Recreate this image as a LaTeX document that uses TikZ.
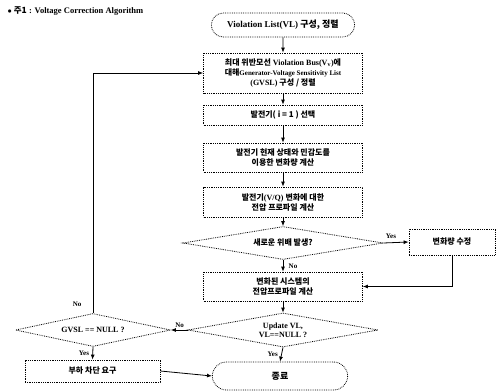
\documentclass[tikz,border=0pt]{standalone}
\usepackage{fontspec}
\setmainfont{Liberation Serif}
\newfontfamily\korfont{Noto Sans CJK KR}
\newcommand\hg[1]{{\korfont #1}}
\usetikzlibrary{positioning,arrows.meta,shapes.geometric,shapes.misc}

\begin{document}
\begin{tikzpicture}[x=1pt,y=-1pt,font=\fontsize{8}{11}\selectfont\bfseries,
  stepbox/.style={draw,densely dotted,thick,minimum width=159pt,align=center,inner sep=1pt},
  decide/.style={draw,densely dotted,thick,diamond,aspect=6,inner sep=0pt,align=center},
  term/.style={draw,densely dotted,thick,rounded rectangle,align=center},
  flow/.style={-{Latex[length=5pt,width=4pt]},thick},
  lab/.style={font=\fontsize{7}{8}\selectfont\bfseries}]
\useasboundingbox (0,0) rectangle (499,391);
\node[anchor=west,font=\fontsize{8.5}{10}\selectfont\bfseries] (title) at (4,11) {$\bullet$ \hg{주1} : Voltage Correction Algorithm};
% main column
\node[term,minimum width=150pt,minimum height=24pt,font=\fontsize{9}{10}\selectfont\bfseries] (start) at (283,25) {Violation List(VL) \hg{구성, 정렬}};
\node[stepbox,minimum height=40pt] (gvsl) at (283,73) {\hg{최대 위반모선} Violation Bus(V\textsubscript{v})\hg{에}\\[-1pt]\hg{대해}{\fontsize{7}{9}\selectfont Generator-Voltage Sensitivity List}\\[-1pt](GVSL) \hg{구성 / 정렬}};
\node[stepbox,minimum height=20pt] (pick) at (283,115) {\hg{발전기( i = 1 ) 선택}};
\node[stepbox,minimum height=29pt] (delta) at (283,157.5) {\hg{발전기 현재 상태와 민감도를}\\[-1pt]\hg{이용한 변화량 계산}};
\node[stepbox,minimum height=30pt] (prof) at (283,202) {\hg{발전기}(V/Q) \hg{변화에 대한}\\[-1pt]\hg{전압 프로파일 계산}};
\node[decide,minimum width=200pt,minimum height=33pt] (viol) at (283,243) {\hg{새로운 위배 발생?}};
\node[stepbox,minimum width=86pt,minimum height=26pt] (fix) at (452,242) {\hg{변화량 수정}};
\node[stepbox,minimum height=29pt] (sys) at (283,286.5) {\hg{변화된 시스템의}\\[-1pt]\hg{전압프로파일 계산}};
\node[decide,minimum width=190pt,minimum height=34pt] (upd) at (283,330) {Update VL,\\[-2pt]VL==NULL ?};
\node[decide,minimum width=155pt,minimum height=33pt] (empty) at (93,330) {GVSL == NULL ?};
\node[stepbox,minimum width=135pt,minimum height=22pt] (shed) at (92.5,371) {\hg{부하 차단 요구}};
\node[term,minimum width=142pt,minimum height=28pt,font=\fontsize{9}{10}\selectfont\bfseries] (stop) at (280,376) {\hg{종료}};
% connectors
\draw[flow] (start)--(gvsl); \draw[flow] (gvsl)--(pick); \draw[flow] (pick)--(delta);
\draw[flow] (delta)--(prof); \draw[flow] (prof)--(viol);
\draw[flow] (viol.east)--(fix.west) node[lab,pos=.3,above] {Yes};
\draw[flow] (viol.south)--(sys.north) node[lab,midway,right=2pt] {No};
\draw[flow] (fix.south)|-(sys.east);
\draw[flow] (sys)--(upd);
\draw[flow] (upd.west)--(empty.east) node[lab,pos=0,above left=-1pt and 0pt] {No};
\draw[flow] (upd.south)--(stop.north) node[lab,midway,left] {Yes};
\draw[flow] (empty.south)--(shed.north) node[lab,midway,left] {Yes};
\draw[flow] (empty.north)|-(gvsl.west);
\path (empty.north) node[lab,above left=3pt and 8pt] {No};
\draw[flow] (shed.east)--(stop.west);
\end{tikzpicture}
\end{document}
